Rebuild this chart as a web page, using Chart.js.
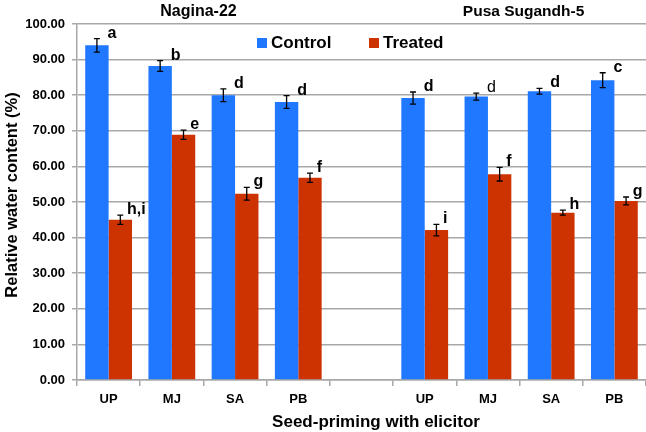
<!DOCTYPE html>
<html>
<head>
<meta charset="utf-8">
<script src="https://cdn.jsdelivr.net/npm/chart.js@4.4.1/dist/chart.umd.min.js"></script>
<style>
  html,body{margin:0;padding:0;background:#fff;}
  #wrap{width:646px;height:432px;position:relative;}
</style>
</head>
<body>
<div id="wrap"><canvas id="c" width="646" height="432"></canvas></div>
<script>
// ---- data ----
const categories = ['UP','MJ','SA','PB','','UP','MJ','SA','PB'];
const groupTitles = ['Nagina-22','Pusa Sugandh-5'];
const seriesNames = ['Control','Treated'];
const controlValues = [94.0, 88.2, 80.0, 78.1, null, 79.2, 79.6, 81.1, 84.2];
const treatedValues = [45.0, 68.9, 52.3, 56.8, null, 42.1, 57.8, 47.0, 50.3];
const controlErrors = [1.9, 1.5, 1.8, 1.8, null, 1.7, 1.0, 0.8, 2.1];
const treatedErrors = [1.3, 1.3, 1.8, 1.3, null, 1.6, 1.9, 0.7, 1.1];
const controlLetters = ['a','b','d','d','', 'd','d','d','c'];
const treatedLetters = ['h,i','e','g','f','', 'i','f','h','g'];
const controlLetterBold = [true,true,true,true,true,true,false,true,true];
const treatedLetterBold = [true,true,true,true,true,true,true,true,true];
const yTicks = [0,10,20,30,40,50,60,70,80,90,100];
const axisTitleY = 'Relative water content (%)';
const axisTitleX = 'Seed-priming with elicitor';

const BLUE = '#1f78ff';
const RED = '#cc3300';
const GRID = '#a8a8a8';
const FONT = '"Liberation Sans", Arial, sans-serif';

const errs = [controlErrors, treatedErrors];
const letters = [controlLetters, treatedLetters];
const letterBold = [controlLetterBold, treatedLetterBold];
const letterDx = [-1, -5];

const overlay = {
  id: 'overlay',
  afterDatasetsDraw(chart) {
    const ctx = chart.ctx;
    const y = chart.scales.y;
    ctx.save();
    chart.data.datasets.forEach((ds, di) => {
      const meta = chart.getDatasetMeta(di);
      meta.data.forEach((bar, i) => {
        const v = ds.data[i];
        if (v === null || v === undefined) return;
        const e = errs[di][i];
        const yt = y.getPixelForValue(v + e);
        const yb = y.getPixelForValue(v - e);
        const x = bar.x;
        ctx.strokeStyle = '#000';
        ctx.lineWidth = 1.3;
        ctx.beginPath();
        ctx.moveTo(x, yt); ctx.lineTo(x, yb);
        ctx.moveTo(x - 3, yt); ctx.lineTo(x + 3, yt);
        ctx.moveTo(x - 3, yb); ctx.lineTo(x + 3, yb);
        ctx.stroke();
        const t = letters[di][i];
        if (t) {
          ctx.fillStyle = '#000';
          ctx.font = (letterBold[di][i] ? 'bold ' : '') + '16px ' + FONT;
          ctx.textAlign = 'left';
          ctx.textBaseline = 'alphabetic';
          ctx.fillText(t, x + bar.width / 2 + letterDx[di], yt - 1);
        }
      });
    });
    ctx.restore();
  },
  afterDraw(chart) {
    const ctx = chart.ctx;
    const xs = chart.scales.x;
    const ca = chart.chartArea;
    ctx.save();
    ctx.fillStyle = '#000';
    // group titles
    ctx.textAlign = 'center';
    ctx.textBaseline = 'middle';
    const g1 = (xs.getPixelForValue(0) + xs.getPixelForValue(3)) / 2 - 5;
    const g2 = (xs.getPixelForValue(5) + xs.getPixelForValue(8)) / 2 + 4;
    ctx.font = 'bold 16px ' + FONT;
    ctx.fillText(groupTitles[0], g1, 12);
    ctx.font = 'bold 15.5px ' + FONT;
    ctx.fillText(groupTitles[1], g2, 12);
    // legend
    ctx.font = 'bold 17px ' + FONT;
    ctx.textAlign = 'left';
    ctx.fillStyle = BLUE;
    ctx.fillRect(257, 38, 10, 10);
    ctx.fillStyle = '#000';
    ctx.fillText(seriesNames[0], 271, 43);
    ctx.fillStyle = RED;
    ctx.fillRect(369, 38, 10, 10);
    ctx.fillStyle = '#000';
    ctx.fillText(seriesNames[1], 383, 43);
    // x title
    ctx.textAlign = 'center';
    ctx.font = 'bold 17px ' + FONT;
    ctx.fillText(axisTitleX, 376, 422);
    // y title
    ctx.translate(12, 195);
    ctx.rotate(-Math.PI / 2);
    ctx.font = 'bold 16.5px ' + FONT;
    ctx.fillText(axisTitleY, 0, 0);
    ctx.restore();
  }
};

new Chart(document.getElementById('c'), {
  type: 'bar',
  data: {
    labels: categories,
    datasets: [
      { label: seriesNames[0], data: controlValues, backgroundColor: BLUE, borderWidth: 0 },
      { label: seriesNames[1], data: treatedValues, backgroundColor: RED, borderWidth: 0 }
    ]
  },
  options: {
    responsive: false,
    animation: false,
    devicePixelRatio: 1,
    categoryPercentage: 0.74,
    barPercentage: 1.0,
    layout: { padding: { top: 24, right: 0, left: 0, bottom: 0 } },
    plugins: { legend: { display: false }, tooltip: { enabled: false }, title: { display: false } },
    scales: {
      x: {
        grid: { offset: true, drawOnChartArea: false, drawTicks: true, tickLength: 6, color: GRID, lineWidth: 1.5 },
        border: { color: GRID, width: 1.5 },
        ticks: { color: '#000', font: { family: FONT, size: 13, weight: 'bold' }, padding: 6, maxRotation: 0, autoSkip: false },
        afterFit(s) { s.height = 52; }
      },
      y: {
        min: 0, max: 100,
        afterBuildTicks(s) { s.ticks = yTicks.map(v => ({ value: v })); },
        grid: { color: GRID, lineWidth: 1.5, tickLength: 5 },
        border: { color: GRID, width: 1.5 },
        ticks: { color: '#000', font: { family: FONT, size: 13, weight: 'bold' }, padding: 7,
                 callback: v => Number(v).toFixed(2) },
        afterFit(s) { s.width = 77; }
      }
    }
  },
  plugins: [overlay]
});
</script>
</body>
</html>
